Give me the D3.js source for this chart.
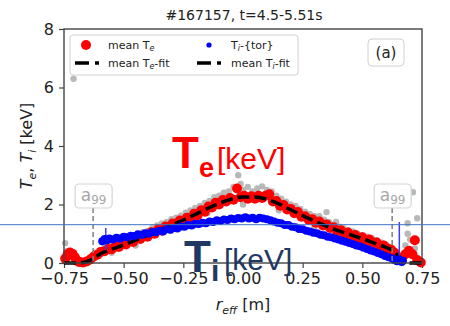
<!DOCTYPE html>
<html>
<head>
<meta charset="utf-8">
<script src="https://cdn.jsdelivr.net/npm/d3@7"></script>
<style>
body { margin: 0; background: #fff; }
svg { display: block; font-family: "DejaVu Sans", sans-serif; }
</style>
</head>
<body>
<div id="chart"></div>
<script>
// Valores (r_eff [m], T [keV])
const xTicks = [-0.75, -0.5, -0.25, 0, 0.25, 0.5, 0.75];
const yTicks = [0, 2, 4, 6, 8];
const a99Pos = [-0.628, 0.625];
const overlayLevel = 1.31;

// datos crudos (gris)
const teRaw = [[-0.745,0.68],[-0.74,0.4],[-0.73,0.2],[-0.71,6.3],[-0.7,0.1],[-0.68,0.05],[-0.66,0.08],[-0.64,0.2],
  [-0.62,0.35],[-0.6,0.45],[-0.58,0.55],[-0.56,0.62],[-0.55,0.35],[-0.54,0.58],[-0.52,0.72],[-0.5,0.78],[-0.48,0.8],
  [-0.46,0.9],[-0.45,0.6],[-0.44,0.98],[-0.42,1.05],[-0.4,1.1],[-0.38,1.2],[-0.36,1.28],[-0.34,1.35],[-0.32,1.4],
  [-0.3,1.5],[-0.3,1.1],[-0.28,1.55],[-0.26,1.62],[-0.24,1.72],[-0.22,1.8],[-0.2,1.88],[-0.18,1.95],[-0.16,2.05],
  [-0.15,1.7],[-0.14,2.12],[-0.12,2.25],[-0.1,2.3],[-0.08,2.4],[-0.06,2.45],[-0.04,2.6],[-0.02,3.0],[-0.01,2.7],
  [0.0,2.5],[0.0,2.0],[0.02,2.6],[0.04,2.45],[0.06,2.55],[0.08,2.62],[0.1,2.5],[0.12,2.45],[0.14,2.3],[0.15,1.8],
  [0.16,2.2],[0.18,2.1],[0.2,2.0],[0.22,1.95],[0.24,1.85],[0.26,1.75],[0.28,1.68],[0.3,1.6],[0.3,1.25],[0.32,1.6],
  [0.34,1.48],[0.35,1.74],[0.36,1.4],[0.38,1.32],[0.39,1.4],[0.4,1.25],[0.42,1.2],[0.44,1.12],[0.45,0.8],[0.46,1.08],
  [0.48,1.0],[0.5,0.95],[0.52,0.9],[0.54,0.85],[0.55,0.55],[0.56,0.78],[0.58,0.7],[0.6,0.62],[0.62,0.5],[0.64,0.3],
  [0.66,0.15],[0.68,0.6],[0.69,1.0],[0.69,1.36],[0.7,0.8],[0.712,2.42],[0.72,0.5],[0.73,1.53],[0.74,0.05]];

// Te medio (rojo)
const teMean = [[-0.745,0.15],[-0.735,0.3],[-0.725,0.36],[-0.715,0.32],[-0.705,0.2],[-0.695,0.08],[-0.685,0.03],
  [-0.67,0.02],[-0.655,0.05],[-0.64,0.12],[-0.625,0.22],[-0.61,0.28],[-0.595,0.38],[-0.58,0.4],[-0.565,0.48],
  [-0.55,0.47],[-0.535,0.56],[-0.52,0.55],[-0.505,0.66],[-0.49,0.63],[-0.475,0.75],[-0.46,0.72],[-0.445,0.85],
  [-0.43,0.82],[-0.415,0.95],[-0.4,0.9],[-0.385,1.05],[-0.37,1.0],[-0.355,1.15],[-0.34,1.1],[-0.325,1.25],
  [-0.31,1.2],[-0.295,1.35],[-0.28,1.3],[-0.265,1.45],[-0.25,1.4],[-0.235,1.55],[-0.22,1.52],[-0.205,1.68],
  [-0.19,1.63],[-0.175,1.8],[-0.16,1.75],[-0.145,1.93],[-0.13,1.9],[-0.115,2.06],[-0.1,2.0],[-0.085,2.15],
  [-0.07,2.1],[-0.055,2.22],[-0.04,2.16],[-0.025,2.55],[-0.01,2.25],[0.005,2.3],[0.02,2.2],[0.035,2.28],
  [0.05,2.2],[0.065,2.3],[0.08,2.22],[0.095,2.3],[0.11,2.35],[0.125,2.1],[0.14,2.12],[0.155,1.96],[0.17,1.98],
  [0.185,1.83],[0.2,1.85],[0.215,1.7],[0.23,1.74],[0.245,1.58],[0.26,1.6],[0.275,1.48],[0.29,1.5],[0.305,1.38],
  [0.32,1.42],[0.335,1.28],[0.35,1.32],[0.365,1.2],[0.38,1.22],[0.395,1.08],[0.41,1.12],[0.425,1.0],[0.44,1.04],
  [0.455,0.93],[0.47,0.96],[0.485,0.84],[0.5,0.88],[0.515,0.76],[0.53,0.8],[0.545,0.68],[0.56,0.7],[0.575,0.58],
  [0.59,0.6],[0.605,0.5],[0.62,0.46],[0.635,0.35],[0.65,0.2],[0.665,0.1],[0.68,0.3],[0.695,0.42],[0.71,0.3],
  [0.72,0.78],[0.73,0.1],[0.745,0.02]];

// ajuste de Te (linea negra)
const teFit = [[-0.75,0.0],[-0.7,0.0],[-0.675,0.01],[-0.65,0.06],[-0.625,0.16],[-0.6,0.3],[-0.55,0.47],[-0.5,0.62],
  [-0.45,0.78],[-0.4,0.95],[-0.35,1.12],[-0.3,1.29],[-0.25,1.47],[-0.2,1.66],[-0.15,1.86],[-0.1,2.04],[-0.05,2.18],
  [0.0,2.26],[0.05,2.26],[0.1,2.18],[0.15,2.02],[0.2,1.82],[0.25,1.62],[0.3,1.43],[0.35,1.26],[0.4,1.1],[0.45,0.97],
  [0.5,0.83],[0.55,0.68],[0.6,0.53],[0.625,0.44],[0.65,0.25],[0.675,0.06],[0.7,0.0],[0.75,0.0]];

// Ti toroidal (azul)
const tiTor = [[-0.59,0.74],[-0.58,0.82],[-0.57,0.78],[-0.56,0.84],[-0.545,0.8],[-0.53,0.86],[-0.515,0.84],[-0.5,0.9],
  [-0.485,0.88],[-0.47,0.93],[-0.455,0.92],[-0.44,0.98],[-0.425,0.96],[-0.41,1.02],[-0.395,1.0],[-0.38,1.06],
  [-0.365,1.05],[-0.35,1.1],[-0.335,1.08],[-0.32,1.15],[-0.305,1.14],[-0.29,1.2],[-0.275,1.18],[-0.26,1.25],
  [-0.245,1.24],[-0.23,1.3],[-0.215,1.28],[-0.2,1.34],[-0.185,1.33],[-0.17,1.38],[-0.155,1.36],[-0.14,1.42],
  [-0.125,1.4],[-0.11,1.46],[-0.095,1.44],[-0.08,1.49],[-0.065,1.47],[-0.05,1.52],[-0.035,1.5],[-0.02,1.54],
  [-0.005,1.52],[0.01,1.56],[0.025,1.52],[0.04,1.55],[0.055,1.5],[0.07,1.55],[0.085,1.52],[0.1,1.5],[0.115,1.46],
  [0.13,1.42],[0.145,1.38],[0.16,1.36],[0.175,1.3],[0.19,1.3],[0.205,1.24],[0.22,1.22],[0.235,1.16],[0.25,1.15],
  [0.265,1.1],[0.28,1.08],[0.295,1.03],[0.31,1.02],[0.325,0.97],[0.34,0.95],[0.355,0.9],[0.37,0.88],[0.385,0.84],
  [0.4,0.8],[0.415,0.76],[0.43,0.73],[0.445,0.68],[0.46,0.65],[0.475,0.6],[0.49,0.57],[0.505,0.52],[0.52,0.48],
  [0.535,0.43],[0.55,0.39],[0.565,0.34],[0.58,0.3],[0.595,0.24],[0.61,0.2],[0.625,0.15],[0.635,0.1],[0.645,0.06],
  [0.655,0.12],[0.665,0.03],[0.67,0.08]];

// barras de error de Ti (r, min, max)
const tiErr = [[-0.575,0.45,1.2],[0.655,0.0,1.4]];

// ajuste de Ti
const tiFit = [[-0.6,0.76],[-0.5,0.89],[-0.4,1.02],[-0.3,1.17],[-0.2,1.33],[-0.1,1.46],[0.0,1.53],[0.05,1.53],
  [0.1,1.49],[0.15,1.4],[0.2,1.28],[0.25,1.15],[0.3,1.03],[0.35,0.92],[0.4,0.8],[0.45,0.67],[0.5,0.53],[0.55,0.38],
  [0.6,0.22],[0.65,0.07],[0.675,0.0]];

const width = 450, height = 326;
const margin = { top: 29, right: 28, bottom: 63, left: 64 };
const plotW = width - margin.left - margin.right;
const plotH = height - margin.top - margin.bottom;

const svg = d3.select("#chart").append("svg")
  .attr("width", width)
  .attr("height", height);

const x = d3.scaleLinear().domain([-0.75, 0.75]).range([margin.left, margin.left + plotW]);
const y = d3.scaleLinear().domain([0, 8]).range([margin.top + plotH, margin.top]);

// texto con subindices
function richText(sel, parts) {
  parts.forEach(p => {
    const t = sel.append("tspan").text(p.t);
    if (p.it) t.attr("font-style", "italic");
    if (p.size) t.attr("font-size", p.size);
    if (p.dy) t.attr("dy", p.dy);
  });
  return sel;
}

// Titulo
svg.append("text")
  .attr("x", margin.left + plotW / 2 + 1)
  .attr("y", 20)
  .attr("text-anchor", "middle")
  .attr("font-size", 14)
  .attr("fill", "#222")
  .text("#167157, t=4.5-5.51s");

// Ejes
const xAxis = svg.append("g")
  .attr("transform", `translate(0,${margin.top + plotH})`)
  .call(d3.axisBottom(x).tickValues(xTicks).tickSize(5).tickPadding(5).tickFormat(d3.format(".2f")));
const yAxis = svg.append("g")
  .attr("transform", `translate(${margin.left},0)`)
  .call(d3.axisLeft(y).tickValues(yTicks).tickSize(5).tickPadding(5).tickFormat(d3.format("d")));

[xAxis, yAxis].forEach(g => {
  g.select(".domain").remove();
  g.selectAll("line").attr("stroke", "#444").attr("stroke-width", 1.2);
  g.selectAll("text").attr("font-size", 16).attr("fill", "#222").attr("font-family", "DejaVu Sans");
});

// Etiquetas de ejes
richText(svg.append("text")
  .attr("x", margin.left + plotW / 2)
  .attr("y", 310)
  .attr("text-anchor", "middle")
  .attr("font-size", 16)
  .attr("fill", "#222"), [
    { t: "r", it: true },
    { t: "eff", it: true, size: 11, dy: 4 },
    { t: " [m]", dy: -4 }
  ]);

richText(svg.append("text")
  .attr("transform", `translate(32,${margin.top + plotH / 2}) rotate(-90)`)
  .attr("text-anchor", "middle")
  .attr("font-size", 16)
  .attr("fill", "#222"), [
    { t: "T", it: true },
    { t: "e", it: true, size: 11, dy: 4 },
    { t: ", ", dy: -4 },
    { t: "T", it: true },
    { t: "i", it: true, size: 11, dy: 4 },
    { t: " [keV]", dy: -4 }
  ]);

// Datos
const plot = svg.append("g");

plot.selectAll(".raw")
  .data(teRaw)
  .enter()
  .append("circle")
  .attr("class", "raw")
  .attr("cx", d => x(d[0]))
  .attr("cy", d => y(d[1]))
  .attr("r", 3.2)
  .attr("fill", "#b8b8b8");

plot.selectAll(".temean")
  .data(teMean)
  .enter()
  .append("circle")
  .attr("class", "temean")
  .attr("cx", d => x(d[0]))
  .attr("cy", d => y(d[1]))
  .attr("r", 5)
  .attr("fill", "#ff0000");

const line = d3.line()
  .x(d => x(d[0]))
  .y(d => y(d[1]))
  .curve(d3.curveMonotoneX);

plot.append("path")
  .datum(teFit)
  .attr("d", line)
  .attr("fill", "none")
  .attr("stroke", "#000")
  .attr("stroke-width", 3.5)
  .attr("stroke-dasharray", "12,5");

plot.append("path")
  .datum(tiFit)
  .attr("d", line)
  .attr("fill", "none")
  .attr("stroke", "#000")
  .attr("stroke-width", 3.5)
  .attr("stroke-dasharray", "12,5");

plot.selectAll(".tierr")
  .data(tiErr)
  .enter()
  .append("line")
  .attr("class", "tierr")
  .attr("x1", d => x(d[0]))
  .attr("x2", d => x(d[0]))
  .attr("y1", d => y(d[1]))
  .attr("y2", d => y(d[2]))
  .attr("stroke", "#3b3bff")
  .attr("stroke-width", 1.5);

plot.selectAll(".ti")
  .data(tiTor)
  .enter()
  .append("circle")
  .attr("class", "ti")
  .attr("cx", d => x(d[0]))
  .attr("cy", d => y(d[1]))
  .attr("r", 4)
  .attr("fill", "#0000ff");

// a99 marcas
a99Pos.forEach(a => {
  const cx = x(a);
  svg.append("line")
    .attr("x1", cx).attr("x2", cx)
    .attr("y1", 208).attr("y2", y(0))
    .attr("stroke", "#808080")
    .attr("stroke-width", 1.5)
    .attr("stroke-dasharray", "5,3");
  svg.append("rect")
    .attr("x", cx - 18).attr("y", 184)
    .attr("width", 37).attr("height", 24)
    .attr("rx", 4)
    .attr("fill", "#fff")
    .attr("stroke", "#d4d4d4")
    .attr("stroke-width", 1.2);
  richText(svg.append("text")
    .attr("x", cx + 0.5)
    .attr("y", 201)
    .attr("text-anchor", "middle")
    .attr("font-size", 17)
    .attr("fill", "#a8a8a8"), [
      { t: "a" },
      { t: "99", size: 12, dy: 3 }
    ]);
});

// Marco
svg.append("rect")
  .attr("x", margin.left)
  .attr("y", margin.top)
  .attr("width", plotW)
  .attr("height", plotH)
  .attr("fill", "none")
  .attr("stroke", "#444")
  .attr("stroke-width", 1.4);

// Leyenda
const leg = svg.append("g").attr("font-size", 11).attr("fill", "#222");
leg.append("rect")
  .attr("x", 70).attr("y", 35)
  .attr("width", 228).attr("height", 40)
  .attr("rx", 3)
  .attr("fill", "#fff")
  .attr("fill-opacity", 0.85)
  .attr("stroke", "#d0d0d0");

leg.append("circle").attr("cx", 86).attr("cy", 45).attr("r", 5).attr("fill", "#ff0000");
leg.append("circle").attr("cx", 209).attr("cy", 45).attr("r", 2.6).attr("fill", "#0000ff");
[75, 197].forEach(x0 => {
  leg.append("line")
    .attr("x1", x0).attr("x2", x0 + 24)
    .attr("y1", 63).attr("y2", 63)
    .attr("stroke", "#000")
    .attr("stroke-width", 3.5)
    .attr("stroke-dasharray", "14,6");
});

richText(leg.append("text").attr("x", 108).attr("y", 49), [
  { t: "mean T" }, { t: "e", it: true, size: 8, dy: 2 }]);
richText(leg.append("text").attr("x", 231).attr("y", 49), [
  { t: "T" }, { t: "i", it: true, size: 8, dy: 2 }, { t: "-{tor}", dy: -2 }]);
richText(leg.append("text").attr("x", 108).attr("y", 67), [
  { t: "mean T" }, { t: "e", it: true, size: 8, dy: 2 }, { t: "-fit", dy: -2 }]);
richText(leg.append("text").attr("x", 231).attr("y", 67), [
  { t: "mean T" }, { t: "i", it: true, size: 8, dy: 2 }, { t: "-fit", dy: -2 }]);

// (a)
svg.append("rect")
  .attr("x", 368).attr("y", 39)
  .attr("width", 36).attr("height", 27)
  .attr("rx", 4)
  .attr("fill", "#fff")
  .attr("stroke", "#d0d0d0");
svg.append("text")
  .attr("x", 386).attr("y", 58)
  .attr("text-anchor", "middle")
  .attr("font-size", 15)
  .attr("fill", "#222")
  .text("(a)");

// Linea horizontal superpuesta
svg.append("line")
  .attr("x1", 0).attr("x2", width)
  .attr("y1", y(overlayLevel)).attr("y2", y(overlayLevel))
  .attr("stroke", "#4472c4")
  .attr("stroke-width", 1);

// Etiquetas grandes
const big = svg.append("g").attr("font-family", "Liberation Sans, Arial, sans-serif");
big.append("text").attr("x", 172).attr("y", 168).attr("font-size", 44).attr("font-weight", "bold").attr("fill", "#ff0000").text("T");
big.append("text").attr("x", 199).attr("y", 177).attr("font-size", 27).attr("font-weight", "bold").attr("fill", "#ff0000").text("e");
big.append("text").attr("x", 217).attr("y", 169).attr("font-size", 30).attr("fill", "#ff0000").text("[keV]");

big.append("text").attr("x", 184).attr("y", 272).attr("font-size", 44).attr("font-weight", "bold").attr("fill", "#1f3864").text("T");
big.append("text").attr("x", 211).attr("y", 281).attr("font-size", 30).attr("font-weight", "bold").attr("fill", "#1f3864").text("i");
big.append("text").attr("x", 224).attr("y", 270).attr("font-size", 30).attr("fill", "#1f3864").text("[keV]");
</script>
</body>
</html>
